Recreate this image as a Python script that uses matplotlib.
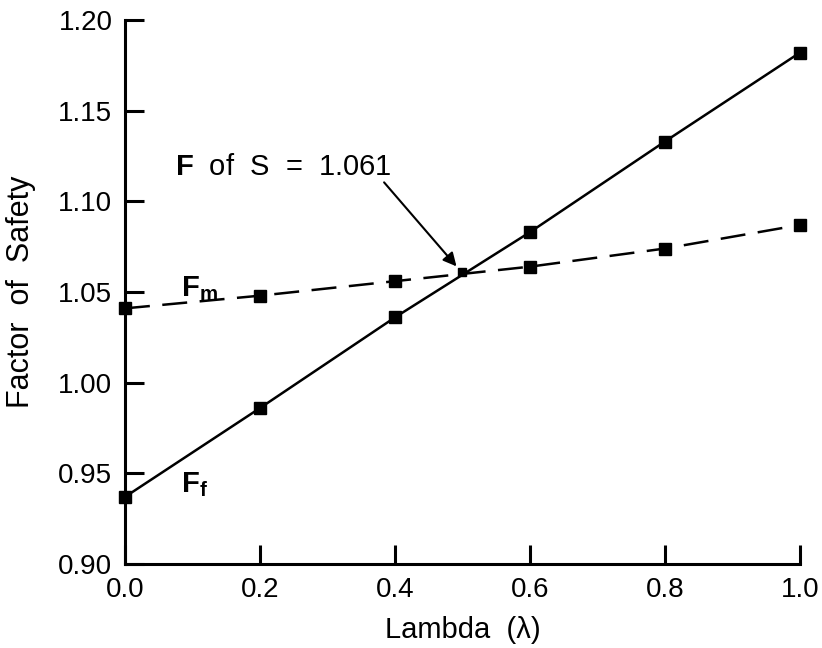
import matplotlib
matplotlib.use("Agg")
import matplotlib.pyplot as plt

lam = [0.0, 0.2, 0.4, 0.6, 0.8, 1.0]
Ff = [0.937, 0.986, 1.036, 1.083, 1.133, 1.182]
Fm = [1.041, 1.048, 1.056, 1.064, 1.074, 1.087]
cross_x = 0.5
cross_y = 1.061
xticks = [0.0, 0.2, 0.4, 0.6, 0.8, 1.0]
yticks = [0.90, 0.95, 1.00, 1.05, 1.10, 1.15, 1.20]

plt.rcParams['font.family'] = ['Liberation Sans', 'DejaVu Sans']
plt.rcParams['mathtext.fontset'] = 'custom'
plt.rcParams['mathtext.rm'] = 'Liberation Sans'
plt.rcParams['mathtext.bf'] = 'Liberation Sans:bold'
plt.rcParams['mathtext.it'] = 'Liberation Sans:italic'

fig = plt.figure(figsize=(8.22, 6.48), dpi=100)
ax = fig.add_axes([0.152, 0.1296, 0.821, 0.8394])

ax.plot(lam, Ff, color='black', lw=1.8, marker='s', ms=9, mec='black', mfc='black', clip_on=False)
ax.plot(lam, Fm, color='black', lw=1.8, ls=(0, (10, 5)), marker='s', ms=9, mec='black', mfc='black', clip_on=False)
ax.plot([cross_x], [cross_y], marker='s', ms=6, color='black')

ax.set_xlim(0, 1.0)
ax.set_ylim(0.90, 1.20)
ax.set_xticks(xticks)
ax.set_xticklabels([f"{v:.1f}" for v in xticks])
ax.set_yticks(yticks)
ax.set_yticklabels([f"{v:.2f}" for v in yticks])
for s in ['top', 'right']:
    ax.spines[s].set_visible(False)
for s in ['left', 'bottom']:
    ax.spines[s].set_linewidth(2.2)
ax.tick_params(direction='in', length=14, width=2.2, labelsize=20, pad=9)
ax.set_xlabel("Lambda  (λ)", fontsize=21, labelpad=10)
ax.set_ylabel("Factor  of  Safety", fontsize=22, labelpad=16)

ax.annotate("", xy=(cross_x - 0.006, cross_y + 0.002), xytext=(0.384, 1.1105),
            arrowprops=dict(arrowstyle='-|>', color='black', lw=1.5,
                            mutation_scale=20, shrinkA=0, shrinkB=2))
ax.text(0.074, 1.1188, r"$\mathbf{F}$  of  S  =  1.061", fontsize=21, ha='left', va='center')
ax.text(0.083, 1.052, r"$\mathbf{F}_\mathbf{m}$", fontsize=21, ha='left', va='center')
ax.text(0.083, 0.944, r"$\mathbf{F}_\mathbf{f}$", fontsize=21, ha='left', va='center')

fig.savefig("out.png", dpi=100)
